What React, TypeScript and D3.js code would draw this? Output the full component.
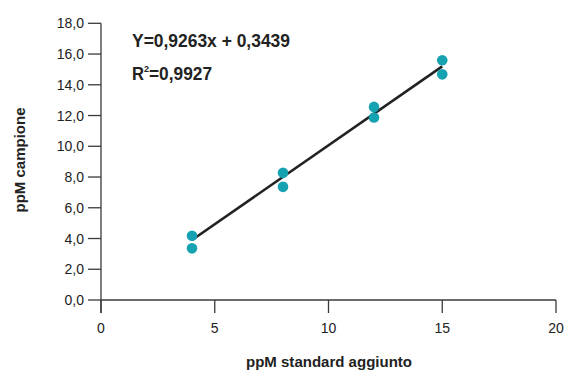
import React from "react";
import * as d3 from "d3";

const xTicks = [0, 5, 10, 15, 20];
const yTicks = [0, 2, 4, 6, 8, 10, 12, 14, 16, 18];
const pointX = [4, 4, 8, 8, 12, 12, 15, 15];
const pointY = [4.18, 3.36, 8.27, 7.36, 12.56, 11.87, 15.6, 14.68];
const lineX = [4, 15];
const lineY = [3.9, 15.2];
const equation = "Y=0,9263x + 0,3439";
const rSquared = "=0,9927";
const xTitle = "ppM standard aggiunto";
const yTitle = "ppM campione";

const W = 567;
const H = 374;
const FONT = "'Liberation Sans', Arial, sans-serif";

export default function App() {
  const x = d3.scaleLinear().domain([0, 20]).range([101, 556]);
  const y = d3.scaleLinear().domain([0, 18]).range([300, 23.3]);
  const fmt = (v: number) => v.toFixed(1).replace(".", ",");
  const line = d3
    .line<number>()
    .x((_, i) => x(lineX[i]))
    .y((d) => y(d));
  const axisColor = "#3a3a3a";
  return (
    <svg
      width={W}
      height={H}
      style={{ position: "absolute", left: 0, top: 0, background: "#fff" }}
    >
      {/* y axis */}
      <line x1={x(0)} x2={x(0)} y1={y(18)} y2={y(0) + 13} stroke={axisColor} strokeWidth={1.3} />
      {yTicks.map((t) => (
        <g key={"y" + t}>
          <line x1={x(0) - 13} x2={x(0)} y1={y(t)} y2={y(t)} stroke={axisColor} strokeWidth={1.3} />
          <text
            x={x(0) - 17}
            y={y(t)}
            dy="0.36em"
            textAnchor="end"
            fontFamily={FONT}
            fontSize={14}
            fill="#222"
          >
            {fmt(t)}
          </text>
        </g>
      ))}
      {/* x axis */}
      <line x1={x(0)} x2={x(20)} y1={y(0)} y2={y(0)} stroke={axisColor} strokeWidth={1.3} />
      {xTicks.map((t) => (
        <g key={"x" + t}>
          <line x1={x(t)} x2={x(t)} y1={y(0)} y2={y(0) + 13} stroke={axisColor} strokeWidth={1.3} />
          <text
            x={x(t)}
            y={y(0) + 33}
            textAnchor="middle"
            fontFamily={FONT}
            fontSize={14}
            fill="#222"
          >
            {t}
          </text>
        </g>
      ))}
      {/* regression line */}
      <path d={line(lineY) || ""} stroke="#222" strokeWidth={2.6} fill="none" />
      {/* points */}
      {pointX.map((px, i) => (
        <circle key={"p" + i} cx={x(px)} cy={y(pointY[i])} r={5.3} fill="#17a2b2" />
      ))}
      {/* equation */}
      <text
        x={132}
        y={47}
        fontFamily={FONT}
        fontWeight="bold"
        fontSize={18}
        fill="#222"
        textLength={158}
        lengthAdjust="spacingAndGlyphs"
      >
        {equation}
      </text>
      <text x={132} y={80} fontFamily={FONT} fontWeight="bold" fontSize={18} fill="#222">
        <tspan textLength={12} lengthAdjust="spacingAndGlyphs">R</tspan>
        <tspan fontSize={9} dy={-8}>2</tspan>
        <tspan dy={8} textLength={63} lengthAdjust="spacingAndGlyphs">
          {rSquared}
        </tspan>
      </text>
      {/* titles */}
      <text
        x={329}
        y={367}
        textAnchor="middle"
        fontFamily={FONT}
        fontWeight="bold"
        fontSize={15}
        fill="#222"
        textLength={166}
        lengthAdjust="spacingAndGlyphs"
      >
        {xTitle}
      </text>
      <text
        transform={`translate(25,160) rotate(-90)`}
        textAnchor="middle"
        fontFamily={FONT}
        fontWeight="bold"
        fontSize={15}
        fill="#222"
        textLength={105}
        lengthAdjust="spacingAndGlyphs"
      >
        {yTitle}
      </text>
    </svg>
  );
}
